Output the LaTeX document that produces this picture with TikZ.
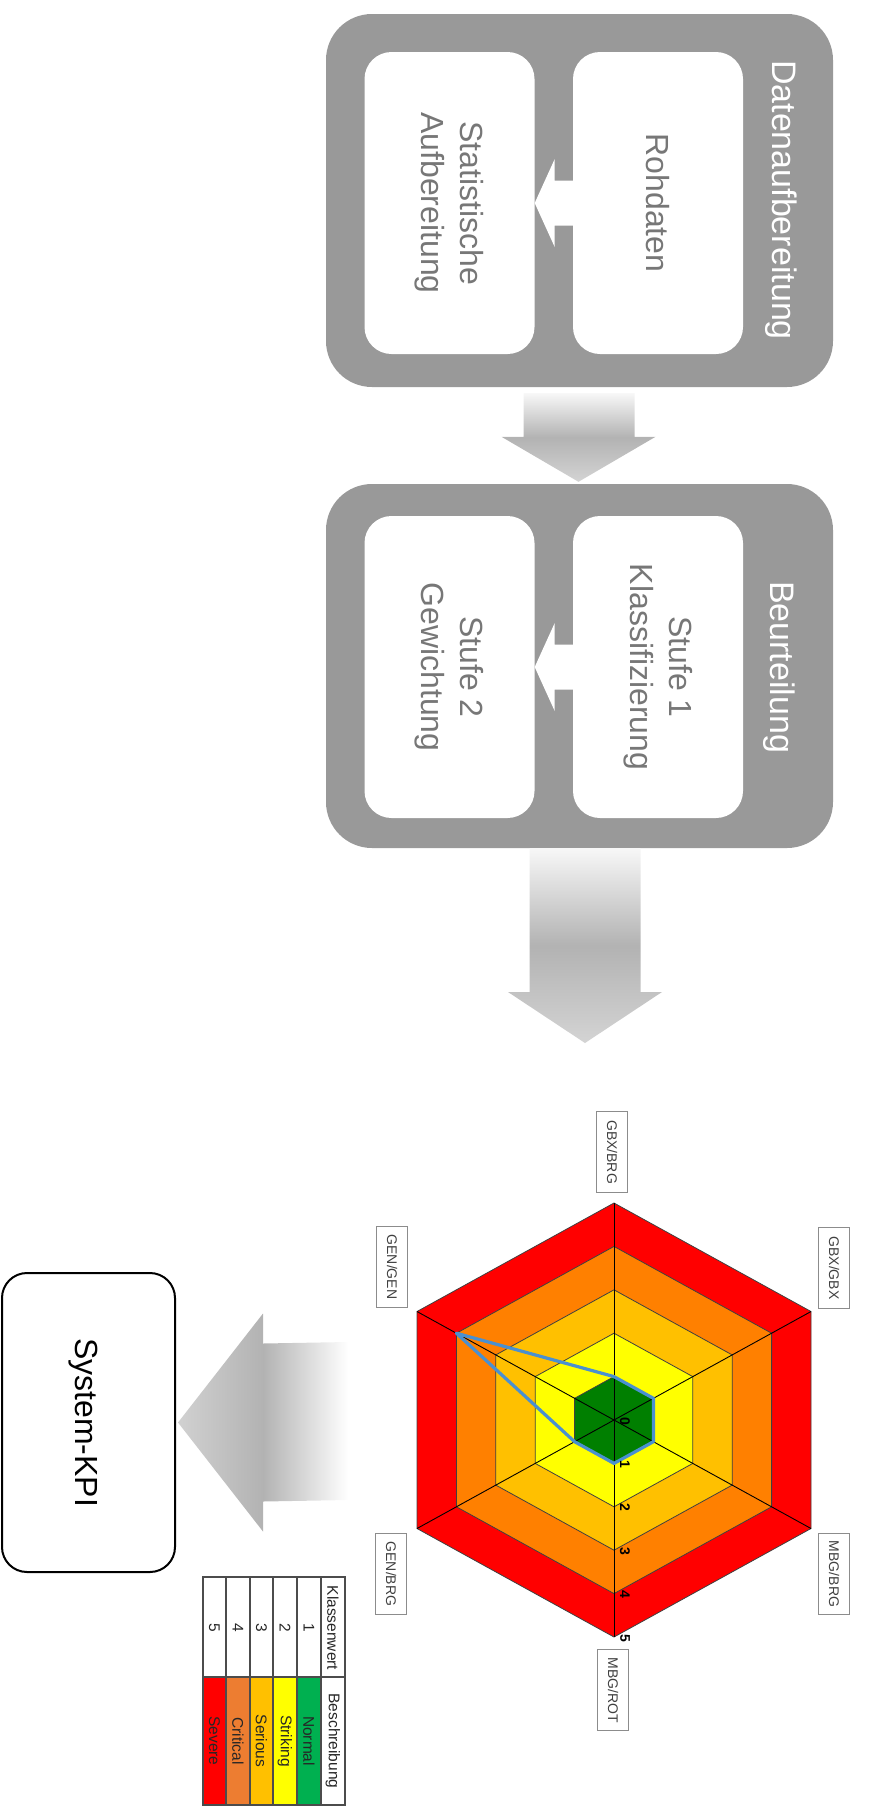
\documentclass[tikz,border=0pt]{standalone}
\usepackage{fontspec}
\setmainfont{Liberation Sans}
\usetikzlibrary{calc}

\definecolor{groupgray}{HTML}{999999}
\definecolor{steptext}{HTML}{777777}
\definecolor{ringred}{HTML}{FF0000}
\definecolor{ringorange}{HTML}{FF8000}
\definecolor{ringgold}{HTML}{FFC000}
\definecolor{ringyellow}{HTML}{FFFF00}
\definecolor{ringgreen}{HTML}{007F00}
\definecolor{seriesblue}{HTML}{4A90D0}
\definecolor{lgGreen}{HTML}{00B050}
\definecolor{lgYellow}{HTML}{FFFF00}
\definecolor{lgGold}{HTML}{FFC000}
\definecolor{lgOrange}{HTML}{ED7D31}
\definecolor{lgRed}{HTML}{FF0000}

\begin{document}
\begin{tikzpicture}[x=1pt,y=-1pt,
  groupbox/.style={fill=groupgray, rounded corners=46pt, inner sep=0pt, minimum width=507pt},
  stepbox/.style={fill=white, rounded corners=27pt, inner sep=0pt, minimum width=170pt, minimum height=302pt},
  grouptitle/.style={rotate=-90, text=white, inner sep=0pt, font=\fontsize{34}{40}\selectfont},
  steplabel/.style={rotate=-90, text=steptext, align=center, inner sep=0pt, font=\fontsize{32}{39}\selectfont},
  downarrow/.style={top color=black!3, bottom color=black!17, middle color=black!30},
  axislabel/.style={draw=black!45, line width=0.8pt, rotate=-90, minimum width=81pt, minimum height=31pt,
    inner sep=0pt, text=black!75, font=\fontsize{14}{16}\selectfont},
  ticklabel/.style={rotate=-90, inner sep=0pt, font=\bfseries\fontsize{14}{14}\selectfont},
  legendtext/.style={rotate=-90, inner sep=0pt, text=black!85, font=\fontsize{15.5}{17}\selectfont},
  gridline/.style={draw=black!70, line width=1.2pt}
]
\useasboundingbox (0,0) rectangle (869,1813);

% ---------- group: Datenaufbereitung ----------
\node[groupbox, minimum height=373pt] (prep) at (579.5,200.5) {};
\node[stepbox] (stat) at (449.5,203) {};
\node[stepbox] (raw) at (658,203) {};
\node[grouptitle] (prepT) at (781,200) {Datenaufbereitung};
\node[steplabel] (rawT) at (raw) {Rohdaten};
\node[steplabel] (statT) at (stat) {Statistische\\Aufbereitung};
\fill[white] ($(raw.west)+(0,-22.5)$) -- ($(stat.east)+(20,-22.5)$) -- ($(stat.east)+(20,-44)$)
  -- (stat.east) -- ($(stat.east)+(20,44)$) -- ($(stat.east)+(20,22.5)$) -- ($(raw.west)+(0,22.5)$) -- cycle;

% ---------- group: Beurteilung ----------
\node[groupbox, minimum height=364pt] (eval) at (579.5,666) {};
\node[stepbox] (wgt) at (449.5,667) {};
\node[stepbox] (cls) at (658,667) {};
\node[grouptitle] (evalT) at (779,667) {Beurteilung};
\node[steplabel] (clsT) at (cls) {Stufe 1\\Klassifizierung};
\node[steplabel] (wgtT) at (wgt) {Stufe 2\\Gewichtung};
\fill[white] ($(cls.west)+(0,-22.5)$) -- ($(wgt.east)+(20,-22.5)$) -- ($(wgt.east)+(20,-44)$)
  -- (wgt.east) -- ($(wgt.east)+(20,44)$) -- ($(wgt.east)+(20,22.5)$) -- ($(cls.west)+(0,22.5)$) -- cycle;

% ---------- block arrow between the groups ----------
\shade[downarrow] ($(prep.south)+(-56,6)$) -- ($(prep.south)+(55,6)$) -- ($(eval.north)+(55,-47)$)
  -- ($(eval.north)+(76,-47)$) -- ($(eval.north)+(-1,-2)$) -- ($(eval.north)+(-78,-47)$)
  -- ($(eval.north)+(-56,-47)$) -- cycle;

% ---------- block arrow into the chart ----------
\coordinate (radarIn) at (585,1043);
\shade[downarrow] ($(radarIn |- eval.south)+(-55.5,0)$) -- ($(radarIn |- eval.south)+(55.5,0)$)
  -- ($(radarIn)+(55.5,-51)$) -- ($(radarIn)+(77,-51)$) -- (radarIn) -- ($(radarIn)+(-77,-51)$)
  -- ($(radarIn)+(-55.5,-51)$) -- cycle;

% ---------- radar chart ----------
\begin{scope}[shift={(614,1420)}]
  \foreach \lv/\col in {5/ringred,4/ringorange,3/ringgold,2/ringyellow,1/ringgreen}
    \filldraw[fill=\col, draw=black!75, line width=0.8pt]
      (0,{-43.4*\lv}) -- ({39.4*\lv},{-21.7*\lv}) -- ({39.4*\lv},{21.7*\lv}) -- (0,{43.4*\lv})
      -- ({-39.4*\lv},{21.7*\lv}) -- ({-39.4*\lv},{-21.7*\lv}) -- cycle;
  \foreach \dx/\dy in {0/-217, 197/-108.5, 197/108.5, 0/217, -197/108.5, -197/-108.5}
    \draw[black, line width=0.9pt] (0,0) -- (\dx,\dy);
  \draw[seriesblue, line width=3.2pt, line join=round]
    (0,-43.4) -- (39.4,-21.7) -- (39.4,21.7) -- (0,43.4) -- (-39.4,21.7) -- (-157.6,-86.8) -- cycle;
  \foreach \k in {0,...,5}
    \node[ticklabel] at (11,{43.4*\k+1}) {\k};
\end{scope}

\node[axislabel] (axTop) at (612,1152) {GBX/BRG};
\node[axislabel] (axUR) at (834,1268) {GBX/GBX};
\node[axislabel] (axLR) at (834,1574) {MBG/BRG};
\node[axislabel] (axBot) at (613,1690) {MBG/ROT};
\node[axislabel] (axLL) at (391,1574) {GEN/BRG};
\node[axislabel] (axUL) at (392,1267) {GEN/GEN};

% ---------- result box ----------
\node[draw=black, line width=2pt, rounded corners=25pt, minimum width=173pt, minimum height=299pt,
  inner sep=0pt] (kpi) at (88.5,1422.5) {};
\node[rotate=-90, inner sep=0pt, font=\fontsize{32}{37}\selectfont] (kpiT) at ($(kpi)+(-5,0)$) {System-KPI};

\coordinate (radarOut) at (348,1421);
\shade[left color=black!18, right color=white, middle color=black!30]
  ($(radarOut)+(0,-79)$) -- ($(kpi.east)+(87,-79)$) -- ($(kpi.east)+(87,-109)$) -- ($(kpi.east)+(2,0)$)
  -- ($(kpi.east)+(87,109)$) -- ($(kpi.east)+(87,79)$) -- ($(radarOut)+(0,79)$) -- cycle;

% ---------- class legend ----------
\fill[lgGreen]  (297,1677) rectangle (321,1805);
\fill[lgYellow] (273,1677) rectangle (297,1805);
\fill[lgGold]   (250,1677) rectangle (273,1805);
\fill[lgOrange] (226,1677) rectangle (250,1805);
\fill[lgRed]    (203,1677) rectangle (226,1805);
\draw[gridline] (203,1577) rectangle (345,1805);
\foreach \x in {226,250,273,297,321}
  \draw[gridline] (\x,1577) -- (\x,1805);
\draw[gridline] (203,1677) -- (345,1677);
\node[legendtext] at (333,1628) {Klassenwert};
\node[legendtext] at (333,1741) {Beschreibung};
\foreach \x/\n/\d in {309/1/Normal, 285/2/Striking, 261.5/3/Serious, 238/4/Critical, 214.5/5/Severe} {
  \node[legendtext] at (\x,1628) {\n};
  \node[legendtext] at (\x,1741) {\d};
}
\end{tikzpicture}
\end{document}
